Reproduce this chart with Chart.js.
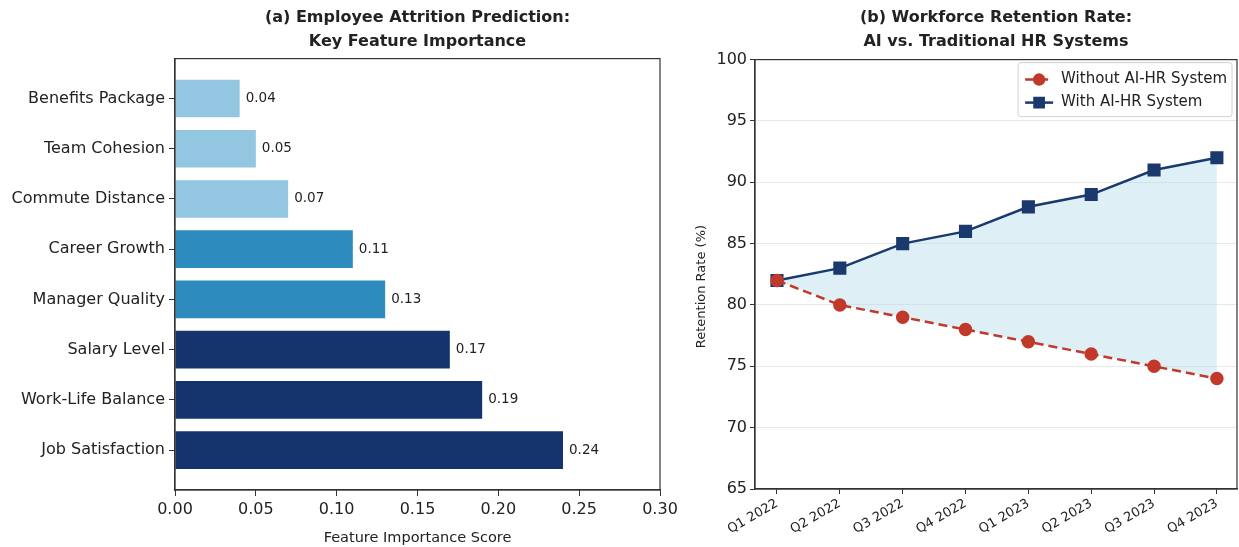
<!DOCTYPE html>
<html>
<head>
<meta charset="utf-8">
<script src="https://cdn.jsdelivr.net/npm/chart.js@4.4.1/dist/chart.umd.min.js"></script>
<style>
  body { margin: 0; background: #fff; }
  #wrap { position: relative; width: 1239px; height: 547px; }
  canvas { position: absolute; top: 0; }
</style>
</head>
<body>
<div id="wrap">
  <canvas id="chartA" width="680" height="547" style="left:0"></canvas>
  <canvas id="chartB" width="559" height="547" style="left:680px"></canvas>
</div>
<script>
// --- data, panel (a)
var features = ['Benefits Package', 'Team Cohesion', 'Commute Distance', 'Career Growth',
  'Manager Quality', 'Salary Level', 'Work-Life Balance', 'Job Satisfaction'];
var importance = [0.04, 0.05, 0.07, 0.11, 0.13, 0.17, 0.19, 0.24];
var importanceTicks = [0, 0.05, 0.10, 0.15, 0.20, 0.25, 0.30];

// --- data, panel (b)
var quarters = ['Q1 2022', 'Q2 2022', 'Q3 2022', 'Q4 2022', 'Q1 2023', 'Q2 2023', 'Q3 2023', 'Q4 2023'];
var withoutAI = [82, 80, 79, 78, 77, 76, 75, 74];
var withAI = [82, 83, 85, 86, 88, 89, 91, 92];
var retentionTicks = [65, 70, 75, 80, 85, 90, 95, 100];

var FONT = "'DejaVu Sans', sans-serif";
var INK = '#222';
Chart.defaults.font.family = FONT;
Chart.defaults.color = INK;

function barColor(v) {
  if (v < 0.1) return '#93c6e0';
  if (v < 0.15) return '#2e8bbd';
  return '#15346e';
}

// frame round the plot area, like matplotlib spines
var frame = {
  id: 'frame',
  afterDatasetsDraw: function(chart) {
    var a = chart.chartArea, ctx = chart.ctx;
    ctx.save();
    ctx.strokeStyle = '#333';
    ctx.lineWidth = 1.2;
    ctx.strokeRect(a.left, a.top, a.right - a.left, a.bottom - a.top);
    ctx.restore();
  }
};

var valueLabels = {
  id: 'valueLabels',
  afterDatasetsDraw: function(chart) {
    var ctx = chart.ctx;
    var meta = chart.getDatasetMeta(0);
    ctx.save();
    ctx.font = '13.5px ' + FONT;
    ctx.fillStyle = INK;
    ctx.textBaseline = 'middle';
    meta.data.forEach(function(bar, i) {
      ctx.fillText(importance[i].toFixed(2), bar.x + 6, bar.y);
    });
    ctx.restore();
  }
};

function noPad(s) { s.paddingLeft = 0; s.paddingRight = 0; }

var ctxA = document.getElementById('chartA').getContext('2d');
var chartA = new Chart(ctxA, {
  type: 'bar',
  data: {
    datasets: [{
      data: importance.map(function(v, i) { return {x: v, y: i}; }),
      backgroundColor: importance.map(barColor),
      borderWidth: 0,
      barPercentage: 0.75,
      categoryPercentage: 1
    }]
  },
  options: {
    indexAxis: 'y',
    responsive: false,
    animation: false,
    layout: { autoPadding: false, padding: { right: 20, left: 0, bottom: 0 } },
    plugins: {
      legend: { display: false },
      tooltip: { enabled: false },
      title: {
        display: true,
        fullSize: false,
        text: ['(a) Employee Attrition Prediction:', 'Key Feature Importance'],
        font: { size: 16, weight: 'bold', lineHeight: 1.55 },
        color: INK,
        padding: { top: 5, bottom: 4 }
      }
    },
    scales: {
      x: {
        type: 'linear',
        min: 0,
        max: 0.3,
        afterBuildTicks: function(s) { s.ticks = importanceTicks.map(function(v) { return {value: v}; }); },
        afterFit: function(s) { s.height = 57; noPad(s); },
        ticks: { font: { size: 16 }, color: INK, padding: 4, callback: function(v) { return v.toFixed(2); } },
        grid: { drawOnChartArea: false, tickLength: 6, tickColor: '#333' },
        border: { color: '#333', width: 1.2 },
        title: { display: true, text: 'Feature Importance Score', font: { size: 14.5 }, color: INK, padding: { top: 1, bottom: 0 } }
      },
      y: {
        type: 'linear',
        reverse: true,
        offset: false,
        min: -0.795,
        max: 7.795,
        afterBuildTicks: function(s) { s.ticks = features.map(function(f, i) { return {value: i}; }); },
        afterFit: function(s) { s.width = 175; },
        ticks: { font: { size: 16 }, color: INK, padding: 4, callback: function(v) { return features[v]; } },
        grid: { offset: false, drawOnChartArea: false, tickLength: 6, tickColor: '#333' },
        border: { color: '#333', width: 1.2 }
      }
    }
  },
  plugins: [frame, valueLabels]
});

// legend drawn like matplotlib: line + marker + text in a framed box
var lineLegend = {
  id: 'lineLegend',
  afterDraw: function(chart) {
    var a = chart.chartArea, ctx = chart.ctx;
    var markerSize = [5, 6.5];
    ctx.save();
    ctx.font = '15px ' + FONT;
    var tw = 0;
    chart.data.datasets.forEach(function(ds) { tw = Math.max(tw, ctx.measureText(ds.label).width); });
    var w = 43 + tw + 5, h = 54;
    var x0 = a.right - w - 5, y0 = a.top + 3;
    ctx.fillStyle = 'rgba(255,255,255,0.85)';
    ctx.strokeStyle = '#d0d0d0';
    ctx.lineWidth = 1;
    ctx.beginPath();
    ctx.roundRect(x0, y0, w, h, 3);
    ctx.fill();
    ctx.stroke();
    chart.data.datasets.forEach(function(ds, i) {
      var y = y0 + 17 + i * 23;
      ctx.strokeStyle = ds.borderColor;
      ctx.lineWidth = ds.borderWidth;
      ctx.setLineDash(ds.borderDash || []);
      ctx.beginPath();
      ctx.moveTo(x0 + 7, y);
      ctx.lineTo(x0 + 35, y);
      ctx.stroke();
      ctx.setLineDash([]);
      Chart.helpers.drawPoint(ctx, { pointStyle: ds.pointStyle, radius: markerSize[i], rotation: 0, borderWidth: 1 }, x0 + 21, y);
      ctx.fillStyle = ds.borderColor;
      ctx.fill();
      ctx.fillStyle = INK;
      ctx.textBaseline = 'middle';
      ctx.fillText(ds.label, x0 + 43, y);
    });
    ctx.restore();
  }
};

// y axis label, placed where the original sits
var yLabel = {
  id: 'yLabel',
  afterDraw: function(chart) {
    var ctx = chart.ctx;
    var y = chart.scales.y.getPixelForValue(81.5);
    ctx.save();
    ctx.translate(22, y);
    ctx.rotate(-Math.PI / 2);
    ctx.font = '13px ' + FONT;
    ctx.fillStyle = INK;
    ctx.textAlign = 'center';
    ctx.textBaseline = 'middle';
    ctx.fillText('Retention Rate (%)', 0, 0);
    ctx.restore();
  }
};

var ctxB = document.getElementById('chartB').getContext('2d');
var chartB = new Chart(ctxB, {
  type: 'line',
  data: {
    datasets: [{
      label: 'Without AI-HR System',
      data: withoutAI.map(function(v, i) { return {x: i, y: v}; }),
      borderColor: '#c0392b',
      backgroundColor: '#c0392b',
      borderWidth: 2.5,
      borderDash: [9, 5],
      pointStyle: 'circle',
      pointRadius: 5.5,
      pointBackgroundColor: '#c0392b',
      pointBorderColor: '#c0392b',
      tension: 0,
      fill: false
    }, {
      label: 'With AI-HR System',
      data: withAI.map(function(v, i) { return {x: i, y: v}; }),
      borderColor: '#1a3a6e',
      backgroundColor: 'rgba(173,216,230,0.4)',
      borderWidth: 2.5,
      pointStyle: 'rect',
      pointRadius: 7.5,
      pointBackgroundColor: '#1a3a6e',
      pointBorderColor: '#1a3a6e',
      tension: 0,
      fill: '-1'
    }]
  },
  options: {
    responsive: false,
    animation: false,
    layout: { autoPadding: false, padding: { right: 2, left: 0, bottom: 0 } },
    plugins: {
      legend: { display: false },
      tooltip: { enabled: false },
      title: {
        display: true,
        fullSize: false,
        text: ['(b) Workforce Retention Rate:', 'AI vs. Traditional HR Systems'],
        font: { size: 16, weight: 'bold', lineHeight: 1.55 },
        color: INK,
        padding: { top: 5, bottom: 5 }
      }
    },
    scales: {
      x: {
        type: 'linear',
        min: -0.35,
        max: 7.32,
        afterBuildTicks: function(s) { s.ticks = quarters.map(function(q, i) { return {value: i}; }); },
        afterFit: function(s) { s.height = 58; noPad(s); },
        ticks: { font: { size: 13 }, color: INK, minRotation: 30, maxRotation: 30, padding: 2,
          callback: function(v) { return quarters[v]; } },
        grid: { drawOnChartArea: false, tickLength: 5, tickColor: '#333' },
        border: { color: '#333', width: 1.2 }
      },
      y: {
        type: 'linear',
        min: 65,
        max: 100,
        afterBuildTicks: function(s) { s.ticks = retentionTicks.map(function(v) { return {value: v}; }); },
        afterFit: function(s) { s.width = 75; },
        ticks: { font: { size: 16 }, color: INK, padding: 3 },
        grid: { color: 'rgba(0,0,0,0.09)', lineWidth: 1, tickLength: 5, tickColor: '#333' },
        border: { color: '#333', width: 1.2 }
      }
    }
  },
  plugins: [frame, lineLegend, yLabel]
});
</script>
</body>
</html>
